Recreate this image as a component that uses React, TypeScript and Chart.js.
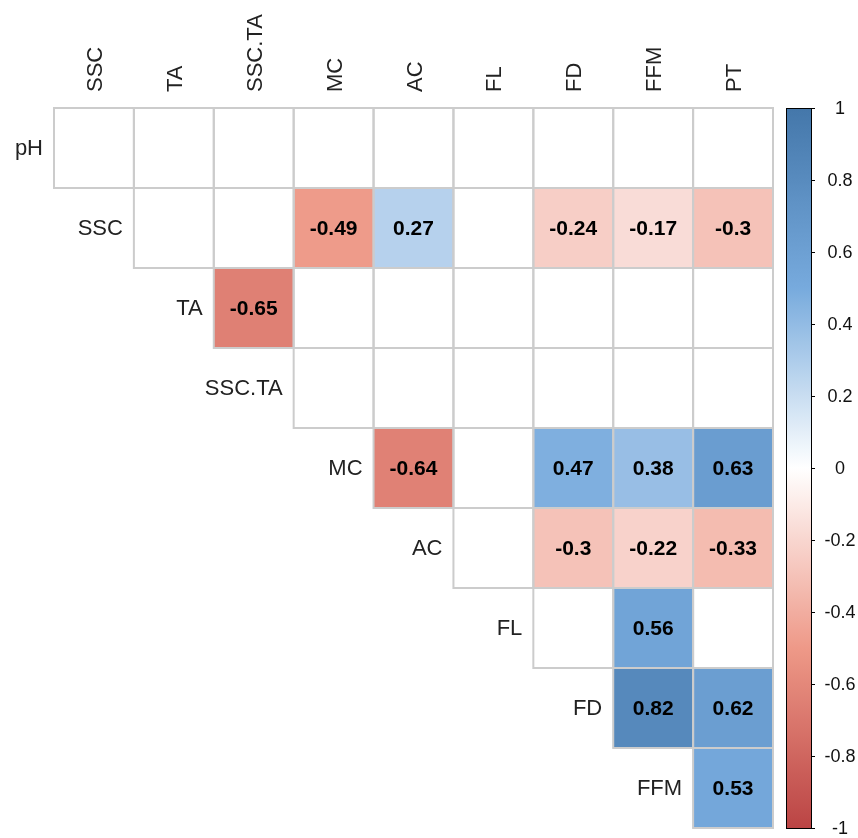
import React, { useEffect, useRef } from "react";
import { Chart, registerables } from "chart.js";

Chart.register(...registerables);

// Variable names along the top (columns) and down the side (rows)
const colLabels = ["SSC", "TA", "SSC.TA", "MC", "AC", "FL", "FD", "FFM", "PT"];
const rowLabels = ["pH", "SSC", "TA", "SSC.TA", "MC", "AC", "FL", "FD", "FFM"];

// Significant correlations for each row (null = not significant, left blank).
// Row i only holds the upper-triangle cells, columns i..8.
const rowPH = [null, null, null, null, null, null, null, null, null];
const rowSSC = [null, null, -0.49, 0.27, null, -0.24, -0.17, -0.3];
const rowTA = [-0.65, null, null, null, null, null, null];
const rowSSCTA = [null, null, null, null, null, null];
const rowMC = [-0.64, null, 0.47, 0.38, 0.63];
const rowAC = [null, -0.3, -0.22, -0.33];
const rowFL = [null, 0.56, null];
const rowFD = [0.82, 0.62];
const rowFFM = [0.53];

const rows: (number | null)[][] = [rowPH, rowSSC, rowTA, rowSSCTA, rowMC, rowAC, rowFL, rowFD, rowFFM];

// Colour bar ticks
const barTicks = [1, 0.8, 0.6, 0.4, 0.2, 0, -0.2, -0.4, -0.6, -0.8, -1];

// Diverging palette, -1 .. 1
const paletteStops = ["#BB4444", "#EE9988", "#FFFFFF", "#77AADD", "#4477AA"];

function hexToRgb(h: string): number[] {
  return [parseInt(h.slice(1, 3), 16), parseInt(h.slice(3, 5), 16), parseInt(h.slice(5, 7), 16)];
}

function corrColor(v: number): string {
  const t = ((v + 1) / 2) * (paletteStops.length - 1);
  const i = Math.min(Math.floor(t), paletteStops.length - 2);
  const f = t - i;
  const a = hexToRgb(paletteStops[i]);
  const b = hexToRgb(paletteStops[i + 1]);
  const c = a.map((x, k) => Math.round(x + (b[k] - x) * f));
  return `rgb(${c[0]},${c[1]},${c[2]})`;
}

const FONT = "'Liberation Sans', Arial, Helvetica, sans-serif";

// Per-cell value lookup (full column index)
function cellValue(r: number, c: number): number | null | undefined {
  if (c < r) return undefined;
  return rows[r][c - r];
}

const matrixDecor = {
  id: "matrixDecor",
  afterDatasetsDraw(chart: any) {
    const ctx = chart.ctx;
    const area = chart.chartArea;
    ctx.save();

    // grid lines and value labels on each cell
    chart.data.datasets.forEach((ds: any, r: number) => {
      const meta = chart.getDatasetMeta(r);
      meta.data.forEach((el: any, c: number) => {
        const v = cellValue(r, c);
        if (v === undefined) return;
        const w = el.width;
        const top = Math.min(el.y, el.base);
        const h = Math.abs(el.base - el.y);
        const left = el.x - w / 2;
        ctx.strokeStyle = "#CCCCCC";
        ctx.lineWidth = 2;
        ctx.strokeRect(left, top, w, h);
      });
    });
    chart.data.datasets.forEach((ds: any, r: number) => {
      const meta = chart.getDatasetMeta(r);
      meta.data.forEach((el: any, c: number) => {
        const v = cellValue(r, c);
        if (v === undefined || v === null) return;
        const cy = (el.y + el.base) / 2;
        ctx.fillStyle = "#000000";
        ctx.font = `bold 21px ${FONT}`;
        ctx.textAlign = "center";
        ctx.textBaseline = "middle";
        ctx.fillText(String(v), el.x, cy + 1);
      });
      // row label just left of the row's first cell
      const first = meta.data[r];
      if (first) {
        const cy = (first.y + first.base) / 2;
        ctx.fillStyle = "#222222";
        ctx.font = `22px ${FONT}`;
        ctx.textAlign = "right";
        ctx.textBaseline = "middle";
        ctx.fillText(rowLabels[r], first.x - first.width / 2 - 11, cy + 1);
      }
    });

    // column labels, rotated, above the grid
    const xs = chart.scales.x;
    colLabels.forEach((lab, c) => {
      const x = xs.getPixelForValue(c);
      ctx.save();
      ctx.translate(x + 2, area.top - 16);
      ctx.rotate(-Math.PI / 2);
      ctx.fillStyle = "#222222";
      ctx.font = `22px ${FONT}`;
      ctx.textAlign = "left";
      ctx.textBaseline = "middle";
      ctx.fillText(lab, 0, 0);
      ctx.restore();
    });

    // colour bar
    const bx = area.right + 13;
    const bw = 25;
    const by = area.top;
    const bh = area.bottom - area.top;
    const grad = ctx.createLinearGradient(0, by, 0, by + bh);
    for (let k = 0; k <= 40; k++) {
      const v = 1 - (2 * k) / 40;
      grad.addColorStop(k / 40, corrColor(v));
    }
    ctx.fillStyle = grad;
    ctx.fillRect(bx, by, bw, bh);
    ctx.strokeStyle = "#000000";
    ctx.lineWidth = 1;
    ctx.strokeRect(bx + 0.5, by + 0.5, bw, bh);
    barTicks.forEach((t) => {
      const y = by + ((1 - t) / 2) * bh;
      ctx.beginPath();
      ctx.moveTo(bx + bw, Math.round(y) + 0.5);
      ctx.lineTo(bx + bw + 4, Math.round(y) + 0.5);
      ctx.stroke();
      ctx.fillStyle = "#111111";
      ctx.font = `18px ${FONT}`;
      ctx.textAlign = "center";
      ctx.textBaseline = "middle";
      ctx.fillText(String(t), bx + bw + 29, y + 1);
    });

    ctx.restore();
  },
};

export default function App() {
  const ref = useRef<HTMLCanvasElement | null>(null);

  useEffect(() => {
    if (!ref.current) return;
    const datasets = rows.map((vals, r) => ({
      label: rowLabels[r],
      data: colLabels.map((_, c) => (c >= r ? [r, r + 1] : null)),
      backgroundColor: colLabels.map((_, c) => {
        const v = cellValue(r, c);
        return v === undefined || v === null ? "#FFFFFF" : corrColor(v);
      }),
      borderWidth: 0,
      barPercentage: 1,
      categoryPercentage: 1,
      grouped: false,
    }));

    const chart = new Chart(ref.current, {
      type: "bar",
      data: { labels: colLabels, datasets: datasets as any },
      options: {
        animation: false,
        responsive: false,
        devicePixelRatio: 1,
        layout: { padding: { left: 54, right: 85, top: 108, bottom: 10 } },
        plugins: { legend: { display: false }, tooltip: { enabled: false } },
        scales: {
          x: { display: false, offset: true },
          y: { display: false, min: 0, max: 9, reverse: true },
        },
      },
      plugins: [matrixDecor],
    });
    return () => chart.destroy();
  }, []);

  return (
    <div style={{ position: "absolute", left: 0, top: 0, width: 858, height: 838, background: "#fff" }}>
      <canvas ref={ref} width={858} height={838} />
    </div>
  );
}
